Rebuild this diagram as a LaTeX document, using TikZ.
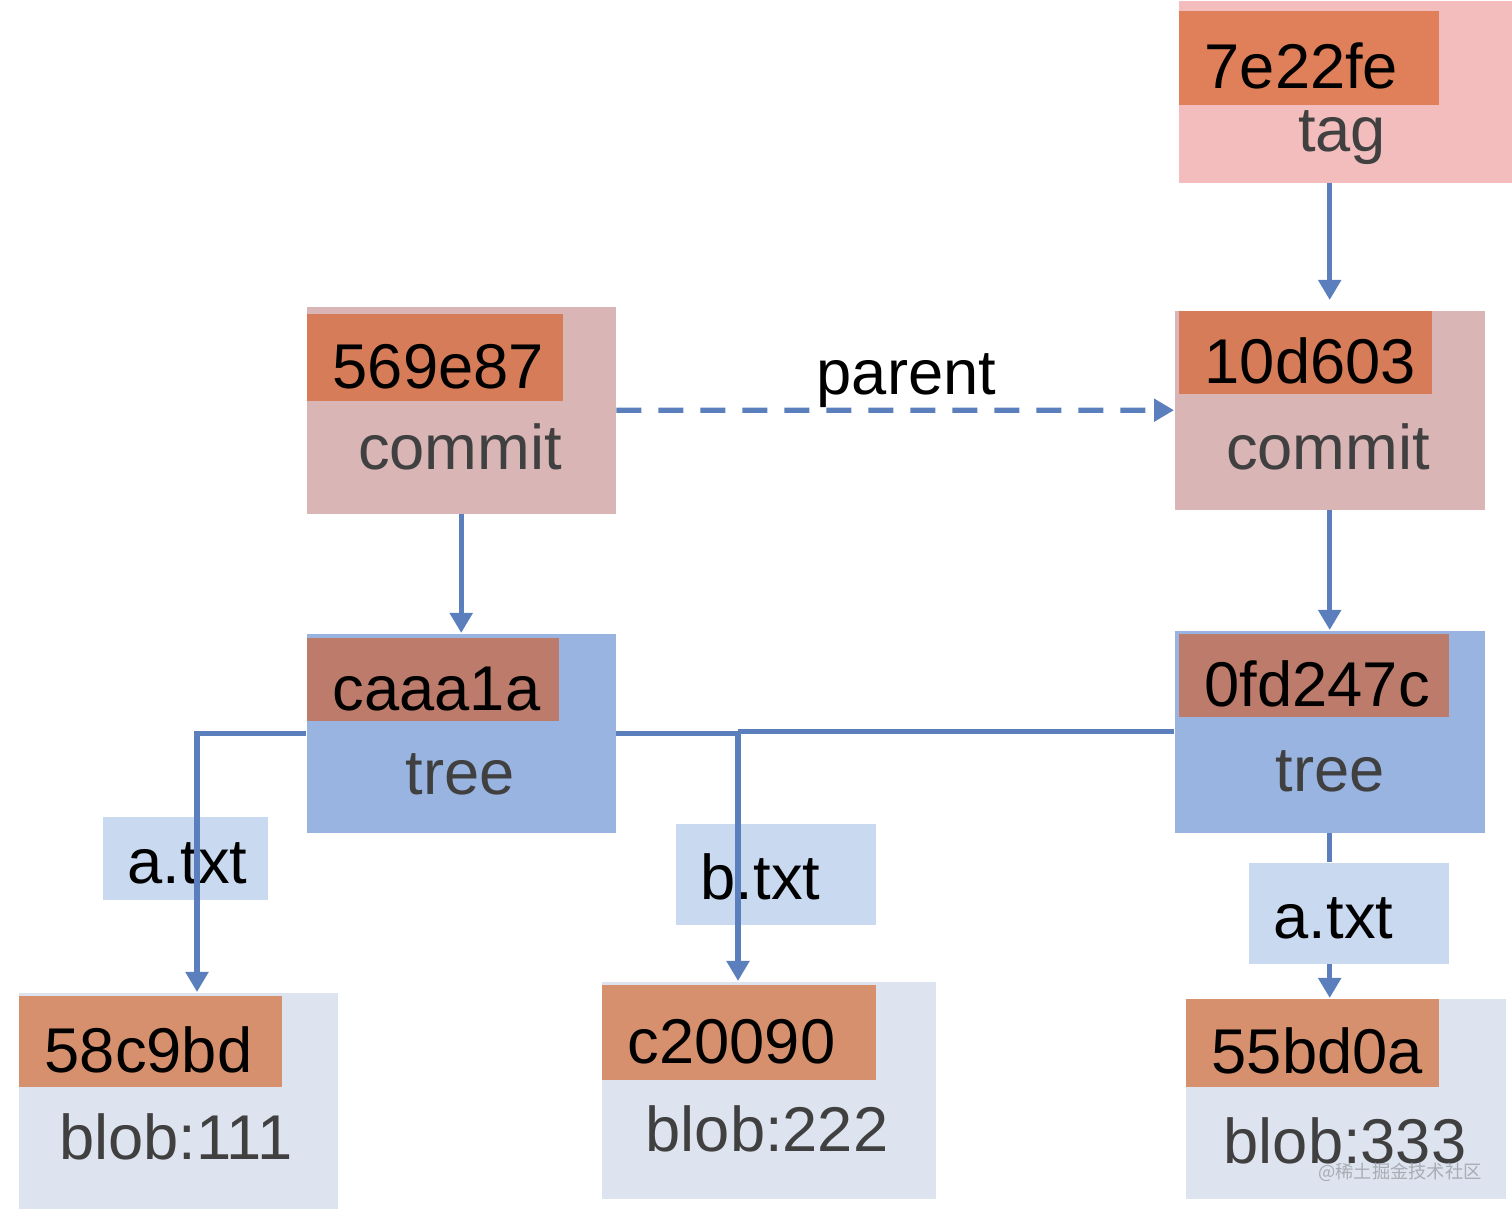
\documentclass[tikz,border=0pt]{standalone}
\usepackage{fontspec}
\setmainfont{Liberation Sans}
\newfontfamily\cjkfont{Noto Sans CJK SC}
\usetikzlibrary{arrows.meta}
\definecolor{tagpink}{HTML}{F4BDBD}
\definecolor{taghash}{HTML}{E0805A}
\definecolor{commitpink}{HTML}{D9B5B5}
\definecolor{commithash}{HTML}{D67C59}
\definecolor{treeblue}{HTML}{99B4E0}
\definecolor{treehash}{HTML}{BC7B6B}
\definecolor{blobgrey}{HTML}{DEE4EF}
\definecolor{blobhash}{HTML}{D6906E}
\definecolor{namebox}{HTML}{C9D9EF}
\definecolor{linkblue}{HTML}{5B7FBD}
\definecolor{kindgrey}{HTML}{404040}
\definecolor{markgrey}{HTML}{A8ACB4}

\begin{document}
\begin{tikzpicture}[x=1cm, y=-1cm, every node/.style={font=\fontsize{18}{22}\selectfont},
		obj/.style={rectangle, inner sep=0pt, anchor=north west},
		hash/.style={obj, inner xsep=0.26cm, align=left, text height=0.62cm, text depth=0pt, text=black},
		kind/.style={anchor=base, inner sep=0pt, text=kindgrey},
		fname/.style={obj, fill=namebox, inner xsep=0.25cm, align=left, text height=0.5cm, text depth=0pt},
		link/.style={draw=linkblue, line width=1.5pt, -{Triangle[width=0.22cm, length=0.2cm]}}]
			\useasboundingbox (0,0) rectangle (15.12,12.13);

			% Tag
			\node[obj, fill=tagpink, minimum width=3.34cm, minimum height=1.82cm] (tag) at (11.78,0) {};
			\node[hash, fill=taghash, text width=2.08cm, minimum height=0.94cm] (taghash) at (11.78,0.10) {7e22fe};
			\node[kind] (tagkind) at (13.42,1.52) {tag};

			% Commits
			\node[obj, fill=commitpink, minimum width=3.09cm, minimum height=2.07cm] (c1) at (3.06,3.06) {};
			\node[hash, fill=commithash, text width=2.04cm, minimum height=0.87cm] (c1hash) at (3.06,3.13) {569e87};
			\node[kind] (c1kind) at (4.60,4.70) {commit};
			\node[obj, fill=commitpink, minimum width=3.10cm, minimum height=1.99cm] (c2) at (11.74,3.10) {};
			\node[hash, fill=commithash, text width=2.01cm, minimum height=0.83cm] (c2hash) at (11.78,3.10) {10d603};
			\node[kind] (c2kind) at (13.28,4.70) {commit};

			% Trees
			\node[obj, fill=treeblue, minimum width=3.09cm, minimum height=1.99cm] (t1) at (3.06,6.33) {};
			\node[hash, fill=treehash, text width=2.00cm, minimum height=0.83cm] (t1hash) at (3.06,6.37) {caaa1a};
			\node[kind] (t1kind) at (4.60,7.95) {tree};
			\node[obj, fill=treeblue, minimum width=3.10cm, minimum height=2.02cm] (t2) at (11.74,6.30) {};
			\node[hash, fill=treehash, text width=2.18cm, minimum height=0.83cm] (t2hash) at (11.78,6.33) {0fd247c};
			\node[kind] (t2kind) at (13.30,7.92) {tree};

			% Blobs
			\node[obj, fill=blobgrey, minimum width=3.19cm, minimum height=2.16cm] (b1) at (0.18,9.92) {};
			\node[hash, fill=blobhash, text width=2.11cm, minimum height=0.91cm] (b1hash) at (0.18,9.95) {58c9bd};
			\node[kind] (b1kind) at (1.76,11.60) {blob:111};
			\node[obj, fill=blobgrey, minimum width=3.34cm, minimum height=2.17cm] (b2) at (6.01,9.81) {};
			\node[hash, fill=blobhash, text width=2.22cm, minimum height=0.95cm] (b2hash) at (6.01,9.84) {c20090};
			\node[kind] (b2kind) at (7.67,11.52) {blob:222};
			\node[obj, fill=blobgrey, minimum width=3.20cm, minimum height=2.00cm] (b3) at (11.85,9.98) {};
			\node[hash, fill=blobhash, text width=2.01cm, minimum height=0.88cm] (b3hash) at (11.85,9.98) {55bd0a};
			\node[kind] (b3kind) at (13.45,11.63) {blob:333};
			\node[font=\cjkfont\fontsize{5.2}{6}\selectfont, text=markgrey] (mark) at (14.00,11.72) {@稀土掘金技术社区};

			% File names
			\node[fname, text width=1.15cm, minimum height=0.83cm] (fa1) at (1.02,8.16) {a.txt};
			\node[fname, text width=1.50cm, minimum height=1.01cm] (fb) at (6.75,8.23) {b.txt};
			\node[fname, text width=1.50cm, minimum height=1.01cm] (fa2) at (12.48,8.62) {a.txt};

			% Ends of the file links
			\coordinate (b1top) at (1.97,9.92);
			\coordinate (b2top) at (7.38,9.81);

			% Links
			\draw[link, shorten >=0.1cm] (tag.south -| c2.north) -- (c2.north);
			\draw[link, dash pattern=on 0.25cm off 0.17cm] (c1.east) -- (c2.west)
				node[pos=0.52, above, inner sep=0pt] (par) {parent};
			\draw[link] (c1.south) -- (t1.north);
			\draw[link] (c2.south) -- (t2.north);
			\draw[link] (t1.west) -| (b1top);
			\draw[link] (t1.east) -| (b2top);
			\draw[link, -] (t2.west) -- (t2.west -| b2top);
			\draw[link, -] (t2.south) -- (fa2.north -| t2.south);
			\draw[link] (fa2.south -| t2.south) -- (b3.north -| t2.south);
		\end{tikzpicture}
\end{document}
